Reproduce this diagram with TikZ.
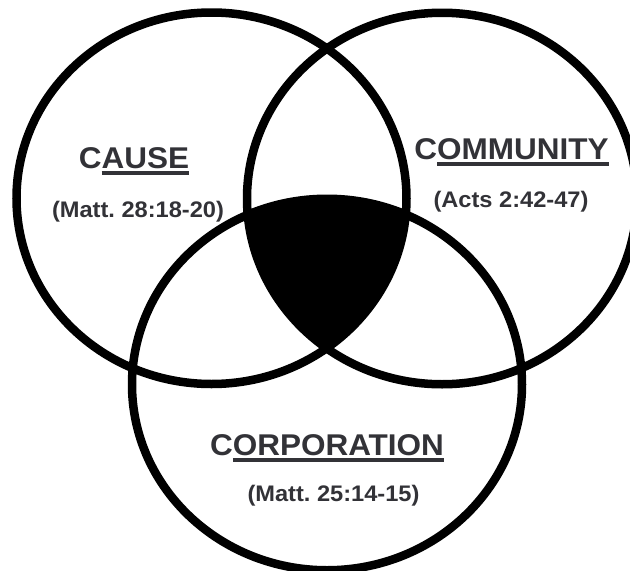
\documentclass[tikz,border=0pt]{standalone}
\usepackage{fontspec}
\setmainfont{Liberation Sans}
\newfontfamily\hdfont[FakeStretch=1.05]{Liberation Sans}
\definecolor{txt}{RGB}{50,50,55}
\newcommand\myul[1]{\setbox0\hbox{#1}\rlap{\rule[-7pt]{\wd0}{4pt}}\box0}
\frenchspacing
\begin{document}
\begin{tikzpicture}[x=1pt,y=-1pt, line width=8.5pt,
  hd/.style={text=txt, font=\frenchspacing\hdfont\bfseries\fontsize{30}{30}\selectfont, inner sep=0pt, anchor=base},
  rf/.style={text=txt, font=\frenchspacing\hdfont\bfseries\fontsize{22.5}{22.5}\selectfont, inner sep=0pt, anchor=base},
  ring/.style={x radius=195pt, y radius=185.75pt}]
\useasboundingbox (0,0) rectangle (630,571);
\clip (0,0) rectangle (630,571);
\coordinate (cl) at (211.5,198.25);
\coordinate (cr) at (442,198.5);
\coordinate (cb) at (327,384.5);
\begin{scope}
  \clip (cl) ellipse [ring];
  \clip (cr) ellipse [ring];
  \fill (cb) ellipse [ring];
\end{scope}
\draw (cl) ellipse [ring];
\draw (cr) ellipse [ring];
\draw (cb) ellipse [ring];
\node[hd] (cause) at (134,168) {C\myul{AUSE}};
\node[rf] (r1) at (138,217) {(Matt. 28:18-20)};
\node[hd] (comm) at (511.5,159) {C\myul{OMMUNITY}};
\node[rf] (r2) at (511,207) {(Acts 2:42-47)};
\node[hd] (corp) at (327,455) {C\myul{ORPORATION}};
\node[rf] (r3) at (333.5,501) {(Matt. 25:14-15)};
\end{tikzpicture}
\end{document}
